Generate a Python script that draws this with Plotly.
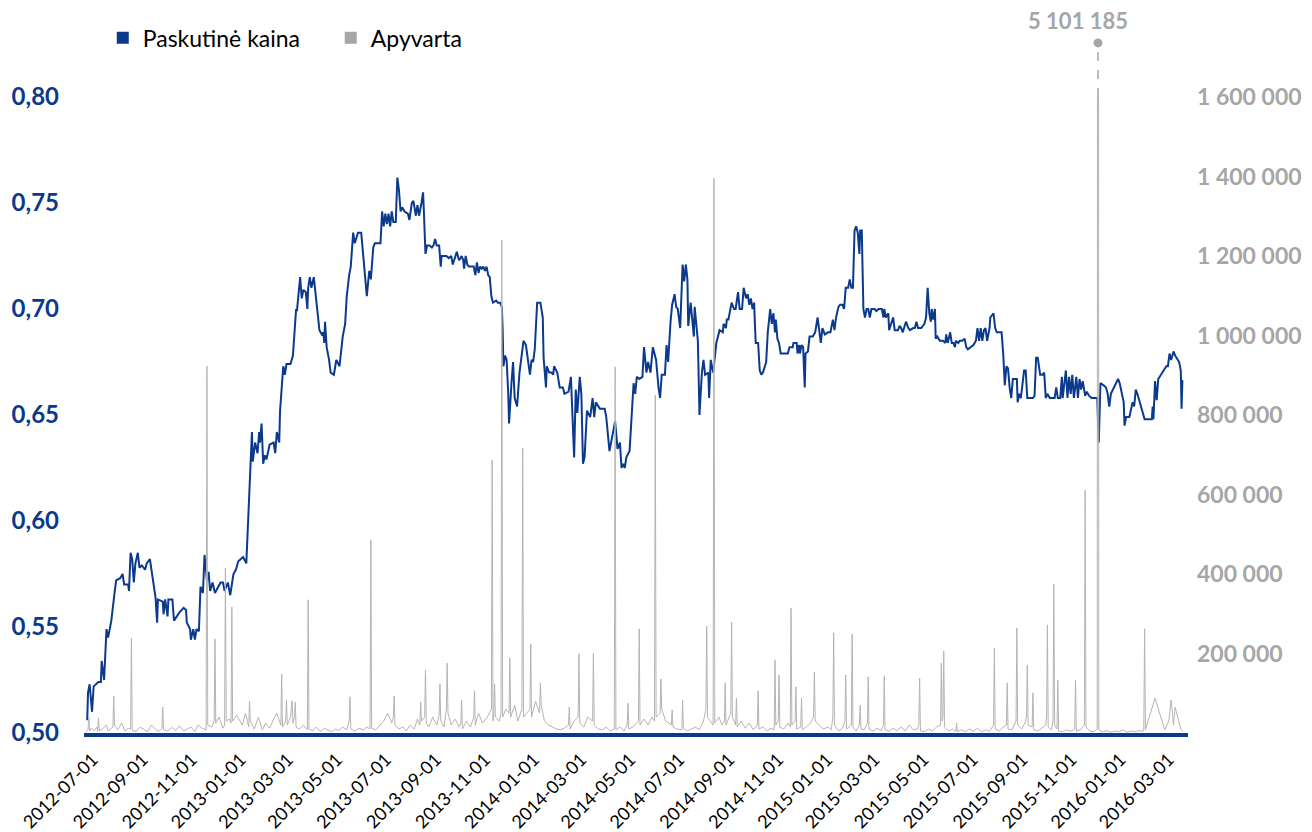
import plotly.graph_objects as go

# ---------------- data ----------------
price_dates = [
"2012-06-24","2012-06-25","2012-06-27","2012-06-30","2012-07-02","2012-07-08","2012-07-11","2012-07-12","2012-07-15","2012-07-18",
"2012-07-20","2012-07-22","2012-07-24","2012-07-28","2012-07-30","2012-08-04","2012-08-07","2012-08-09","2012-08-14","2012-08-15",
"2012-08-17","2012-08-19","2012-08-21","2012-08-23","2012-08-26","2012-08-28","2012-08-31","2012-09-04","2012-09-06","2012-09-10",
"2012-09-14","2012-09-17","2012-09-19","2012-09-20","2012-09-26","2012-09-27","2012-09-29","2012-10-02","2012-10-03","2012-10-08",
"2012-10-10","2012-10-13","2012-10-17","2012-10-22","2012-10-25","2012-10-26","2012-10-30","2012-10-31","2012-11-03","2012-11-05",
"2012-11-07","2012-11-10","2012-11-12","2012-11-15","2012-11-17","2012-11-20","2012-11-22","2012-11-24","2012-11-27","2012-11-30",
"2012-12-03","2012-12-07","2012-12-10","2012-12-12","2012-12-16","2012-12-19","2012-12-23","2012-12-26","2012-12-29","2013-01-04",
"2013-01-08","2013-01-10","2013-01-12","2013-01-15","2013-01-16","2013-01-19","2013-01-22","2013-01-24","2013-01-25","2013-01-27",
"2013-01-29","2013-01-31","2013-02-02","2013-02-06","2013-02-11","2013-02-13","2013-02-15","2013-02-18","2013-02-19","2013-02-23",
"2013-02-25","2013-02-27","2013-03-04","2013-03-07","2013-03-11","2013-03-12","2013-03-16","2013-03-18","2013-03-20","2013-03-23",
"2013-03-25","2013-03-26","2013-03-28","2013-03-30","2013-04-02","2013-04-05","2013-04-09","2013-04-12","2013-04-14","2013-04-15",
"2013-04-16","2013-04-18","2013-04-21","2013-04-23","2013-04-27","2013-04-30","2013-05-04","2013-05-08","2013-05-11","2013-05-13",
"2013-05-14","2013-05-16","2013-05-18","2013-05-21","2013-05-23","2013-05-27","2013-05-31","2013-06-03","2013-06-06","2013-06-07",
"2013-06-10","2013-06-12","2013-06-15","2013-06-17","2013-06-24","2013-06-26","2013-06-28","2013-06-30","2013-07-02","2013-07-04",
"2013-07-06","2013-07-08","2013-07-10","2013-07-13","2013-07-15","2013-07-17","2013-07-19","2013-07-21","2013-07-24","2013-07-28",
"2013-07-30","2013-08-02","2013-08-04","2013-08-07","2013-08-09","2013-08-11","2013-08-14","2013-08-16","2013-08-17","2013-08-18",
"2013-08-19","2013-08-21","2013-08-24","2013-08-27","2013-08-29","2013-08-31","2013-09-02","2013-09-05","2013-09-07","2013-09-08",
"2013-09-11","2013-09-14","2013-09-17","2013-09-20","2013-09-22","2013-09-25","2013-09-27","2013-09-29","2013-09-30","2013-10-03",
"2013-10-05","2013-10-06","2013-10-08","2013-10-10","2013-10-12","2013-10-15","2013-10-18","2013-10-20","2013-10-22","2013-10-24",
"2013-10-26","2013-10-28","2013-10-30","2013-11-01","2013-11-03","2013-11-05","2013-11-07","2013-11-09","2013-11-11","2013-11-15",
"2013-11-17","2013-11-20","2013-11-22","2013-11-23","2013-11-24","2013-11-26","2013-11-28","2013-11-30","2013-12-01","2013-12-04",
"2013-12-06","2013-12-08","2013-12-11","2013-12-14","2013-12-19","2013-12-22","2013-12-25","2013-12-27","2013-12-29","2013-12-31",
"2014-01-02","2014-01-05","2014-01-09","2014-01-12","2014-01-13","2014-01-16","2014-01-17","2014-01-20","2014-01-23","2014-01-25",
"2014-01-26","2014-01-30","2014-02-02","2014-02-06","2014-02-08","2014-02-13","2014-02-16","2014-02-18","2014-02-20","2014-02-22",
"2014-02-24","2014-02-27","2014-03-01","2014-03-03","2014-03-05","2014-03-08","2014-03-12","2014-03-15","2014-03-17","2014-03-19",
"2014-03-22","2014-03-24","2014-03-30","2014-04-01","2014-04-05","2014-04-08","2014-04-12","2014-04-15","2014-04-18","2014-04-20",
"2014-04-22","2014-04-24","2014-04-26","2014-04-30","2014-05-02","2014-05-05","2014-05-07","2014-05-09","2014-05-12","2014-05-16",
"2014-05-18","2014-05-21","2014-05-23","2014-05-26","2014-05-29","2014-06-02","2014-06-05","2014-06-07","2014-06-09","2014-06-13",
"2014-06-15","2014-06-17","2014-06-20","2014-06-22","2014-06-25","2014-06-27","2014-06-29","2014-07-02","2014-07-05","2014-07-07",
"2014-07-09","2014-07-11","2014-07-12","2014-07-15","2014-07-17","2014-07-19","2014-07-20","2014-07-22","2014-07-24","2014-07-26",
"2014-07-29","2014-07-31","2014-08-02","2014-08-06","2014-08-07","2014-08-09","2014-08-12","2014-08-16","2014-08-20","2014-08-24",
"2014-08-25","2014-08-28","2014-08-29","2014-08-31","2014-09-04","2014-09-07","2014-09-09","2014-09-12","2014-09-14","2014-09-17",
"2014-09-19","2014-09-22","2014-09-24","2014-09-26","2014-09-28","2014-09-30","2014-10-02","2014-10-03","2014-10-04","2014-10-07",
"2014-10-09","2014-10-11","2014-10-13","2014-10-17","2014-10-19","2014-10-22","2014-10-24","2014-10-26","2014-10-28","2014-10-29",
"2014-10-31","2014-11-02","2014-11-04","2014-11-13","2014-11-15","2014-11-19","2014-11-20","2014-11-24","2014-11-25","2014-11-27",
"2014-11-28","2014-11-30","2014-12-02","2014-12-04","2014-12-05","2014-12-08","2014-12-10","2014-12-14","2014-12-17","2014-12-20",
"2014-12-22","2014-12-24","2014-12-26","2014-12-29","2015-01-02","2015-01-05","2015-01-08","2015-01-10","2015-01-12","2015-01-15",
"2015-01-17","2015-01-20","2015-01-22","2015-01-24","2015-01-27","2015-01-29","2015-01-31","2015-02-02","2015-02-04","2015-02-06",
"2015-02-08","2015-02-10","2015-02-11","2015-02-13","2015-02-15","2015-02-17","2015-02-19","2015-02-21","2015-02-23","2015-02-25",
"2015-03-01","2015-03-03","2015-03-06","2015-03-10","2015-03-12","2015-03-13","2015-03-15","2015-03-18","2015-03-19","2015-03-22",
"2015-03-24","2015-03-26","2015-03-30","2015-04-01","2015-04-03","2015-04-05","2015-04-09","2015-04-12","2015-04-14","2015-04-18",
"2015-04-20","2015-04-22","2015-04-24","2015-04-28","2015-05-02","2015-05-04","2015-05-06","2015-05-08","2015-05-10","2015-05-11",
"2015-05-13","2015-05-15","2015-05-16","2015-05-18","2015-05-21","2015-05-25","2015-05-28","2015-05-29","2015-05-31","2015-06-03",
"2015-06-05","2015-06-07","2015-06-09","2015-06-10","2015-06-13","2015-06-15","2015-06-18","2015-06-21","2015-06-23","2015-06-25",
"2015-06-28","2015-07-02","2015-07-05","2015-07-07","2015-07-09","2015-07-11","2015-07-13","2015-07-15","2015-07-17","2015-07-19",
"2015-07-22","2015-07-23","2015-07-27","2015-07-29","2015-07-31","2015-08-03","2015-08-06","2015-08-08","2015-08-10","2015-08-12",
"2015-08-14","2015-08-16","2015-08-18","2015-08-20","2015-08-25","2015-08-26","2015-08-28","2015-08-30","2015-09-03","2015-09-05",
"2015-09-07","2015-09-10","2015-09-14","2015-09-16","2015-09-18","2015-09-20","2015-09-23","2015-09-26","2015-09-28","2015-09-30",
"2015-10-02","2015-10-05","2015-10-11","2015-10-13","2015-10-15","2015-10-18","2015-10-20","2015-10-21","2015-10-24","2015-10-25",
"2015-10-27","2015-10-29","2015-10-31","2015-11-02","2015-11-04","2015-11-07","2015-11-09","2015-11-11","2015-11-13","2015-11-15",
"2015-11-18","2015-11-20","2015-11-23","2015-11-26","2015-11-30","2015-12-03","2015-12-05","2015-12-07","2015-12-11","2015-12-14",
"2015-12-16","2015-12-18","2015-12-20","2015-12-25","2015-12-29","2015-12-31","2016-01-04","2016-01-05","2016-01-06","2016-01-08",
"2016-01-12","2016-01-13","2016-01-16","2016-01-18","2016-01-20","2016-01-22","2016-01-25","2016-01-28","2016-01-31","2016-02-04",
"2016-02-09","2016-02-10","2016-02-11","2016-02-13","2016-02-15","2016-02-17","2016-02-20","2016-02-24","2016-02-27","2016-02-29",
"2016-03-02","2016-03-04","2016-03-07","2016-03-09","2016-03-11","2016-03-14","2016-03-16","2016-03-17","2016-03-18","2016-03-19",
]
price_values = [
0.506,0.519,0.523,0.510,0.522,0.524,0.524,0.534,0.525,0.549,
0.545,0.550,0.553,0.566,0.572,0.573,0.575,0.570,0.570,0.567,
0.585,0.582,0.571,0.580,0.585,0.578,0.579,0.577,0.580,0.582,
0.572,0.564,0.552,0.563,0.562,0.556,0.563,0.555,0.563,0.563,
0.553,0.555,0.557,0.559,0.558,0.552,0.549,0.544,0.549,0.544,
0.549,0.548,0.569,0.566,0.584,0.572,0.576,0.567,0.571,0.566,
0.568,0.571,0.571,0.567,0.571,0.565,0.575,0.577,0.581,0.583,
0.580,0.597,0.617,0.642,0.628,0.637,0.632,0.642,0.637,0.646,
0.627,0.631,0.629,0.636,0.637,0.632,0.642,0.637,0.652,0.673,
0.669,0.674,0.674,0.678,0.700,0.699,0.715,0.705,0.709,0.708,
0.700,0.710,0.715,0.710,0.715,0.704,0.690,0.688,0.689,0.684,
0.694,0.682,0.676,0.670,0.669,0.676,0.673,0.687,0.693,0.706,
0.710,0.716,0.720,0.736,0.731,0.736,0.736,0.723,0.710,0.706,
0.718,0.714,0.729,0.731,0.731,0.746,0.739,0.745,0.740,0.745,
0.739,0.746,0.741,0.741,0.762,0.756,0.746,0.748,0.746,0.745,
0.742,0.750,0.751,0.744,0.749,0.744,0.750,0.755,0.746,0.729,
0.726,0.730,0.730,0.729,0.730,0.733,0.730,0.730,0.720,0.725,
0.725,0.725,0.724,0.725,0.721,0.725,0.727,0.724,0.723,0.725,
0.723,0.719,0.725,0.721,0.720,0.720,0.720,0.716,0.722,0.717,
0.720,0.719,0.720,0.718,0.720,0.716,0.715,0.706,0.703,0.704,
0.703,0.703,0.701,0.691,0.673,0.678,0.676,0.660,0.646,0.665,
0.675,0.658,0.654,0.670,0.685,0.683,0.675,0.669,0.676,0.675,
0.681,0.703,0.703,0.696,0.677,0.663,0.673,0.670,0.670,0.669,
0.673,0.670,0.663,0.663,0.660,0.661,0.668,0.648,0.630,0.662,
0.651,0.668,0.660,0.627,0.630,0.652,0.649,0.658,0.649,0.656,
0.654,0.653,0.653,0.649,0.633,0.639,0.647,0.634,0.637,0.625,
0.627,0.625,0.630,0.633,0.648,0.665,0.660,0.668,0.667,0.668,
0.682,0.670,0.675,0.670,0.682,0.676,0.663,0.658,0.669,0.669,
0.683,0.675,0.694,0.702,0.707,0.701,0.700,0.691,0.721,0.713,
0.721,0.714,0.692,0.703,0.695,0.687,0.701,0.694,0.685,0.650,
0.670,0.676,0.669,0.670,0.658,0.676,0.670,0.684,0.690,0.689,
0.693,0.691,0.695,0.695,0.703,0.700,0.700,0.708,0.700,0.700,
0.710,0.705,0.707,0.702,0.705,0.700,0.703,0.693,0.684,0.684,
0.671,0.669,0.670,0.675,0.689,0.700,0.693,0.698,0.689,0.695,
0.686,0.684,0.679,0.679,0.682,0.682,0.684,0.684,0.679,0.683,
0.679,0.683,0.682,0.663,0.679,0.680,0.687,0.687,0.689,0.696,
0.690,0.684,0.691,0.688,0.689,0.689,0.695,0.690,0.696,0.701,
0.702,0.702,0.700,0.710,0.710,0.714,0.710,0.710,0.737,0.739,
0.736,0.726,0.737,0.737,0.700,0.696,0.700,0.700,0.696,0.700,
0.700,0.699,0.700,0.700,0.696,0.700,0.696,0.698,0.690,0.693,
0.696,0.690,0.690,0.692,0.691,0.689,0.694,0.691,0.690,0.691,
0.691,0.694,0.691,0.691,0.693,0.696,0.710,0.698,0.694,0.700,
0.695,0.700,0.686,0.687,0.685,0.685,0.684,0.688,0.684,0.689,
0.684,0.684,0.682,0.685,0.684,0.685,0.685,0.686,0.682,0.681,
0.682,0.683,0.685,0.691,0.685,0.691,0.685,0.690,0.691,0.685,
0.691,0.696,0.698,0.691,0.689,0.689,0.689,0.679,0.664,0.673,
0.672,0.663,0.658,0.667,0.667,0.656,0.660,0.658,0.671,0.671,
0.658,0.658,0.658,0.659,0.677,0.677,0.669,0.669,0.670,0.658,
0.660,0.658,0.658,0.663,0.658,0.658,0.668,0.658,0.670,0.671,
0.658,0.668,0.660,0.669,0.658,0.668,0.658,0.667,0.662,0.666,
0.659,0.661,0.659,0.658,0.658,0.658,0.637,0.665,0.664,0.663,
0.660,0.654,0.660,0.664,0.667,0.665,0.658,0.656,0.645,0.649,
0.649,0.651,0.656,0.654,0.662,0.660,0.656,0.652,0.648,0.648,
0.648,0.654,0.648,0.666,0.657,0.667,0.669,0.671,0.673,0.673,
0.679,0.676,0.680,0.678,0.677,0.675,0.671,0.653,0.666,0.666,
]

turnover_dates = [
"2012-06-22","2012-06-25","2012-06-26","2012-06-27","2012-06-29","2012-07-03","2012-07-06","2012-07-07","2012-07-08","2012-07-09",
"2012-07-13","2012-07-18","2012-07-20","2012-07-26","2012-07-27","2012-07-28","2012-08-01","2012-08-06","2012-08-10","2012-08-14",
"2012-08-17","2012-08-18","2012-08-19","2012-08-24","2012-08-29","2012-09-03","2012-09-07","2012-09-12","2012-09-17","2012-09-21",
"2012-09-25","2012-09-26","2012-09-27","2012-10-02","2012-10-08","2012-10-12","2012-10-17","2012-10-22","2012-10-26","2012-10-31",
"2012-11-05","2012-11-09","2012-11-14","2012-11-19","2012-11-20","2012-11-21","2012-11-26","2012-11-29","2012-11-30","2012-12-01",
"2012-12-05","2012-12-10","2012-12-12","2012-12-13","2012-12-14","2012-12-18","2012-12-20","2012-12-21","2012-12-22","2012-12-27",
"2013-01-03","2013-01-07","2013-01-11","2013-01-12","2013-01-13","2013-01-18","2013-01-23","2013-01-28","2013-02-01","2013-02-06",
"2013-02-11","2013-02-15","2013-02-20","2013-02-21","2013-02-22","2013-02-26","2013-02-27","2013-02-28","2013-03-04","2013-03-06",
"2013-03-07","2013-03-09","2013-03-10","2013-03-11","2013-03-15","2013-03-20","2013-03-25","2013-03-26","2013-03-27","2013-04-01",
"2013-04-05","2013-04-10","2013-04-15","2013-04-19","2013-04-24","2013-04-29","2013-05-03","2013-05-08","2013-05-13","2013-05-16",
"2013-05-17","2013-05-18","2013-05-23","2013-05-28","2013-06-03","2013-06-07","2013-06-11","2013-06-12","2013-06-13","2013-06-18",
"2013-06-24","2013-06-28","2013-07-03","2013-07-08","2013-07-10","2013-07-11","2013-07-12","2013-07-17","2013-07-22","2013-07-26",
"2013-07-31","2013-08-05","2013-08-09","2013-08-12","2013-08-13","2013-08-14","2013-08-18","2013-08-19","2013-08-20","2013-08-23",
"2013-08-28","2013-09-02","2013-09-05","2013-09-06","2013-09-07","2013-09-11","2013-09-14","2013-09-15","2013-09-16","2013-09-20",
"2013-09-25","2013-09-30","2013-10-02","2013-10-03","2013-10-04","2013-10-09","2013-10-14","2013-10-18","2013-10-19","2013-10-20",
"2013-10-24","2013-10-29","2013-11-04","2013-11-09","2013-11-10","2013-11-11","2013-11-12","2013-11-13","2013-11-14","2013-11-19",
"2013-11-21","2013-11-22","2013-11-23","2013-11-27","2013-12-01","2013-12-02","2013-12-03","2013-12-08","2013-12-12","2013-12-17",
"2013-12-18","2013-12-19","2013-12-23","2013-12-27","2013-12-28","2013-12-29","2014-01-03","2014-01-08","2014-01-09","2014-01-10",
"2014-01-14","2014-01-19","2014-01-24","2014-01-29","2014-02-03","2014-02-08","2014-02-13","2014-02-14","2014-02-15","2014-02-20",
"2014-02-25","2014-02-26","2014-02-27","2014-03-04","2014-03-09","2014-03-15","2014-03-16","2014-03-17","2014-03-22","2014-03-27",
"2014-04-01","2014-04-06","2014-04-11","2014-04-12","2014-04-13","2014-04-18","2014-04-23","2014-04-27","2014-04-28","2014-04-29",
"2014-05-04","2014-05-08","2014-05-11","2014-05-12","2014-05-13","2014-05-18","2014-05-23","2014-05-28","2014-05-31","2014-06-01",
"2014-06-02","2014-06-07","2014-06-08","2014-06-09","2014-06-14","2014-06-18","2014-06-21","2014-06-22","2014-06-23","2014-06-28",
"2014-07-04","2014-07-05","2014-07-06","2014-07-11","2014-07-16","2014-07-21","2014-07-26","2014-07-31","2014-08-03","2014-08-04",
"2014-08-05","2014-08-09","2014-08-12","2014-08-13","2014-08-14","2014-08-19","2014-08-23","2014-08-26","2014-08-27","2014-08-28",
"2014-09-03","2014-09-04","2014-09-05","2014-09-09","2014-09-10","2014-09-11","2014-09-16","2014-09-21","2014-09-26","2014-10-01",
"2014-10-06","2014-10-07","2014-10-08","2014-10-13","2014-10-18","2014-10-23","2014-10-27","2014-10-28","2014-10-29","2014-11-01",
"2014-11-02","2014-11-03","2014-11-08","2014-11-13","2014-11-16","2014-11-17","2014-11-18","2014-11-22","2014-11-23","2014-11-24",
"2014-11-29","2014-11-30","2014-12-01","2014-12-06","2014-12-11","2014-12-15","2014-12-16","2014-12-17","2014-12-22","2014-12-27",
"2015-01-02","2015-01-06","2015-01-08","2015-01-09","2015-01-10","2015-01-15","2015-01-20","2015-01-23","2015-01-24","2015-01-25",
"2015-01-31","2015-02-01","2015-02-02","2015-02-06","2015-02-10","2015-02-11","2015-02-12","2015-02-16","2015-02-20","2015-02-21",
"2015-02-22","2015-02-27","2015-03-04","2015-03-09","2015-03-12","2015-03-13","2015-03-14","2015-03-19","2015-03-24","2015-03-29",
"2015-04-03","2015-04-08","2015-04-13","2015-04-18","2015-04-23","2015-04-25","2015-04-26","2015-04-27","2015-05-02","2015-05-07",
"2015-05-12","2015-05-17","2015-05-22","2015-05-23","2015-05-24","2015-05-25","2015-05-26","2015-05-27","2015-06-01","2015-06-06",
"2015-06-10","2015-06-11","2015-06-12","2015-06-17","2015-06-22","2015-06-27","2015-07-02","2015-07-07","2015-07-12","2015-07-17",
"2015-07-22","2015-07-27","2015-07-28","2015-07-29","2015-08-03","2015-08-08","2015-08-12","2015-08-13","2015-08-14","2015-08-19",
"2015-08-24","2015-08-25","2015-08-26","2015-08-31","2015-09-04","2015-09-06","2015-09-07","2015-09-08","2015-09-13","2015-09-14",
"2015-09-15","2015-09-20","2015-09-25","2015-09-30","2015-10-01","2015-10-02","2015-10-03","2015-10-07","2015-10-09","2015-10-10",
"2015-10-11","2015-10-14","2015-10-15","2015-10-16","2015-10-21","2015-10-26","2015-10-31","2015-11-05","2015-11-06","2015-11-07",
"2015-11-12","2015-11-17","2015-11-18","2015-11-19","2015-11-24","2015-11-29","2015-12-03","2015-12-04","2015-12-05","2015-12-10",
"2015-12-15","2015-12-20","2015-12-25","2015-12-30","2016-01-04","2016-01-09","2016-01-14","2016-01-19","2016-01-24","2016-01-29",
"2016-01-30","2016-01-31","2016-02-01","2016-02-13","2016-02-25","2016-03-01","2016-03-04","2016-03-07","2016-03-09","2016-03-12",
"2016-03-16","2016-03-19",
]
turnover_values = [
3000,8000,40000,5000,12000,6000,15000,4000,38000,6000,
10000,20000,5000,15000,93000,20000,8000,25000,5000,12000,
10000,238000,6000,4000,15000,8000,3000,20000,9000,4000,
12000,65000,8000,5000,14000,6000,18000,5000,9000,15000,
4000,20000,12000,8000,923000,20000,15000,30000,237000,25000,
40000,12000,20000,415000,30000,35000,25000,317000,30000,45000,
20000,50000,15000,80000,30000,10000,40000,8000,25000,12000,
35000,50000,20000,148000,15000,30000,83000,20000,40000,81000,
25000,40000,78000,15000,10000,20000,8000,335000,10000,5000,
15000,4000,12000,8000,3000,10000,6000,15000,8000,30000,
91000,10000,5000,12000,8000,15000,10000,486000,12000,8000,
20000,30000,50000,25000,40000,93000,20000,10000,15000,5000,
20000,10000,35000,20000,78000,30000,40000,158000,25000,15000,
40000,20000,45000,123000,30000,15000,60000,176000,50000,20000,
35000,15000,25000,83000,10000,30000,15000,40000,106000,20000,
50000,25000,40000,60000,687000,30000,50000,123000,40000,30000,
50000,1240000,40000,60000,50000,189000,40000,70000,30000,60000,
717000,40000,50000,60000,224000,40000,80000,50000,126000,70000,
30000,20000,15000,10000,8000,12000,20000,65000,10000,30000,
40000,199000,25000,15000,40000,30000,201000,20000,10000,8000,
15000,5000,10000,921000,8000,15000,5000,20000,75000,10000,
15000,25000,30000,262000,20000,35000,20000,40000,30000,850000,
40000,50000,136000,60000,30000,25000,20000,58000,15000,10000,
8000,83000,12000,5000,10000,15000,8000,30000,60000,269000,
40000,30000,20000,1396000,25000,40000,20000,30000,126000,20000,
50000,279000,40000,20000,88000,15000,30000,12000,25000,8000,
20000,106000,10000,15000,5000,12000,8000,184000,20000,30000,
146000,15000,10000,25000,15000,314000,20000,30000,116000,10000,
15000,88000,8000,15000,25000,40000,153000,30000,20000,10000,
15000,8000,40000,252000,20000,5000,12000,30000,146000,10000,
20000,249000,15000,5000,20000,70000,10000,8000,25000,141000,
10000,5000,12000,6000,20000,143000,8000,4000,12000,6000,
15000,5000,20000,8000,10000,20000,138000,5000,3000,10000,
5000,15000,20000,176000,30000,40000,206000,15000,5000,10000,
3000,25000,4000,8000,3000,10000,5000,12000,3000,8000,
4000,20000,214000,10000,5000,15000,20000,126000,10000,8000,
30000,264000,20000,10000,25000,40000,171000,20000,15000,101000,
8000,5000,12000,20000,40000,272000,15000,8000,30000,375000,
20000,10000,133000,5000,3000,8000,4000,10000,133000,5000,
8000,20000,611000,15000,5000,3000,10000,5101185,8000,3000,
6000,2000,5000,3000,8000,2000,5000,3000,6000,4000,
10000,262000,8000,88000,8000,30000,83000,20000,65000,40000,
10000,3000,
]

x_tick_labels = [
"2012-07-01","2012-09-01","2012-11-01","2013-01-01","2013-03-01","2013-05-01","2013-07-01","2013-09-01",
"2013-11-01","2014-01-01","2014-03-01","2014-05-01","2014-07-01","2014-09-01","2014-11-01","2015-01-01",
"2015-03-01","2015-05-01","2015-07-01","2015-09-01","2015-11-01","2016-01-01","2016-03-01",
]
left_ticks = [0.50, 0.55, 0.60, 0.65, 0.70, 0.75, 0.80]
right_ticks = [200000, 400000, 600000, 800000, 1000000, 1200000, 1400000, 1600000]
clipped_date = "2015-12-04"
clipped_label = "5 101 185"
series_names = ["Paskutinė kaina", "Apyvarta"]

# ---------------- styling ----------------
BLUE = "#0B3A8C"
GRAY = "#A6A6A6"
LINE_GRAY = "#B4B4B4"
FONT = "Lato"

# sort turnover chronologically (table built from the lists)
t_pairs = sorted(zip(turnover_dates, turnover_values))
t_x = [p[0] for p in t_pairs]
t_y = [p[1] for p in t_pairs]

fig = go.Figure()
fig.add_trace(go.Scatter(x=price_dates, y=price_values, mode="lines",
                         line=dict(color=BLUE, width=2), yaxis="y",
                         showlegend=False, hoverinfo="skip"))
fig.add_trace(go.Scatter(x=t_x, y=t_y, mode="lines",
                         line=dict(color=LINE_GRAY, width=1), yaxis="y2",
                         showlegend=False, hoverinfo="skip"))
# legend swatches (square markers)
fig.add_trace(go.Scatter(x=[None], y=[None], mode="markers", name=series_names[0],
                         marker=dict(symbol="square", size=17, color=BLUE)))
fig.add_trace(go.Scatter(x=[None], y=[None], mode="markers", name=series_names[1],
                         marker=dict(symbol="square", size=17, color=GRAY), yaxis="y2"))

fig.update_layout(
    width=1312, height=832,
    paper_bgcolor="white", plot_bgcolor="white",
    margin=dict(l=84, r=124, t=97, b=99, autoexpand=False),
    separators=", ",
    font=dict(family=FONT, color="black"),
    showlegend=True,
    legend=dict(orientation="h", x=0.017, xanchor="left", y=1.093, yanchor="middle",
                font=dict(family=FONT, size=23, color="black"),
                entrywidth=183, itemsizing="constant", bgcolor="rgba(0,0,0,0)"),
    xaxis=dict(type="date", range=["2012-06-20", "2016-03-25"],
               tickvals=x_tick_labels, ticktext=x_tick_labels, tickangle=-45,
               tickfont=dict(family=FONT, size=18, color="black"),
               showgrid=False, zeroline=False, showline=True, linecolor=BLUE, linewidth=4,
               ticks="", ticklabelstandoff=5, automargin=False),
    yaxis=dict(range=[0.5, 0.8], tickvals=left_ticks, tickformat=".2f",
               tickfont=dict(family=FONT, size=24, color=BLUE, weight="bold"),
               showgrid=False, zeroline=False, showline=False, ticks="",
               ticklabelstandoff=24, automargin=False),
    yaxis2=dict(range=[0, 1600000], overlaying="y", side="right",
                tickvals=right_ticks, tickformat=",d",
                tickfont=dict(family=FONT, size=23, color=GRAY, weight="bold"),
                showgrid=False, zeroline=False, showline=False, ticks="",
                ticklabelstandoff=8, automargin=False),
)

# dashed leader, dot and label for the clipped turnover value
fig.add_shape(type="line", xref="x", yref="paper", x0=clipped_date, x1=clipped_date,
              y0=1.0, y1=1.075, line=dict(color=GRAY, width=1.5, dash="dash"))
fig.add_shape(type="circle", xref="x", yref="paper", xsizemode="pixel", ysizemode="pixel",
              xanchor=clipped_date, yanchor=1.085, x0=-4.5, x1=4.5, y0=-4.5, y1=4.5,
              fillcolor=GRAY, line=dict(color=GRAY, width=0))
fig.add_annotation(x=clipped_date, xref="x", y=1.121, yref="paper", text=clipped_label,
                   showarrow=False, yanchor="middle", xshift=-20,
                   font=dict(family=FONT, size=22, color=GRAY, weight="bold"))

# remove the browser's default page margin so the 1312x832 figure fills the window
fig.write_html("out.html", config={"displayModeBar": False},
               post_script="document.body.style.margin='0';")
